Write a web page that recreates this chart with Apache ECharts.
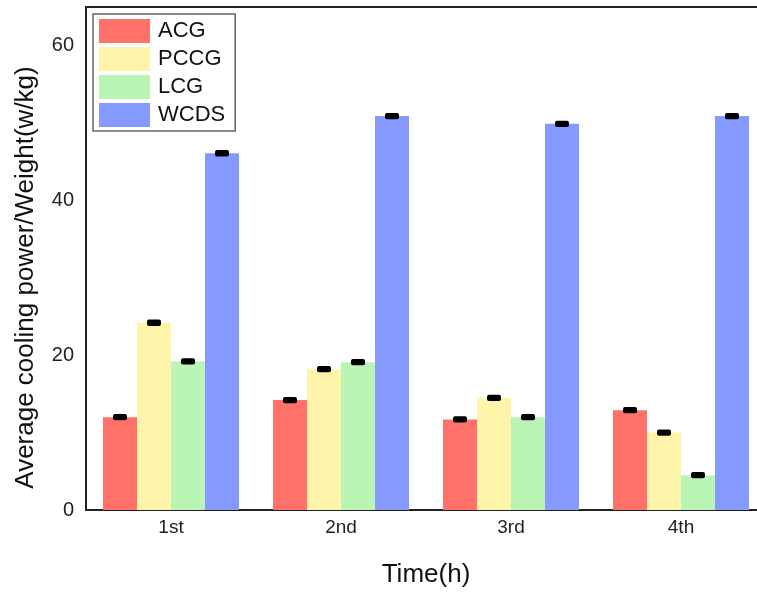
<!DOCTYPE html>
<html>
<head>
<meta charset="utf-8">
<script src="https://cdn.jsdelivr.net/npm/echarts@6/dist/echarts.min.js"></script>
<style>
html,body{margin:0;padding:0;background:#fff;overflow:hidden;}
#chart{width:766px;height:594px;}
</style>
</head>
<body>
<div id="chart"></div>
<script>
const categories = ['1st', '2nd', '3rd', '4th'];
const seriesNames = ['ACG', 'PCCG', 'LCG', 'WCDS'];
const acg = [12.0, 14.2, 11.7, 12.9];
const pccg = [24.2, 18.2, 14.5, 10.0];
const lcg = [19.2, 19.1, 12.0, 4.5];
const wcds = [46.1, 50.9, 49.9, 50.9];
const acgErr = [0.15, 0.15, 0.15, 0.15];
const pccgErr = [0.15, 0.15, 0.15, 0.15];
const lcgErr = [0.15, 0.15, 0.15, 0.15];
const wcdsErr = [0.15, 0.15, 0.15, 0.15];
const yTicks = [0, 20, 40, 60];

const values = [acg, pccg, lcg, wcds];
const errors = [acgErr, pccgErr, lcgErr, wcdsErr];
const colors = ['#FF7169', '#FFF5AA', '#BBF5B5', '#8599FF'];
const FONT = 'Liberation Sans, Arial, sans-serif';

const chart = echarts.init(document.getElementById('chart'));

const barSeries = seriesNames.map((n, s) => ({
  name: n,
  type: 'bar',
  data: values[s],
  barGap: '0%',
  barCategoryGap: '20%',
  itemStyle: { color: colors[s] },
  z: 2
}));

const errSeries = seriesNames.map((n, s) => ({
  name: n + '_err',
  type: 'custom',
  data: values[s].map((v, i) => [i, v, errors[s][i]]),
  z: 5,
  silent: true,
  renderItem: function (params, api) {
    const i = api.value(0), v = api.value(1), e = api.value(2);
    const bandW = api.size([1, 0])[0];
    const bw = bandW * 0.8 / 4;
    const c = api.coord([i, v]);
    const x = c[0] + (s - 1.5) * bw;
    const yTop = api.coord([i, v + e])[1];
    const yBot = api.coord([i, v - e])[1];
    const capW = 14;
    return {
      type: 'rect',
      shape: { x: x - capW / 2, y: yTop - 2, width: capW, height: (yBot - yTop) + 4, r: 2 },
      style: { fill: '#000' }
    };
  }
}));

chart.setOption({
  animation: false,
  backgroundColor: '#fff',
  grid: {
    left: 86, top: 7, right: 0, bottom: 84,
    show: true, borderColor: '#222', borderWidth: 2, backgroundColor: 'transparent'
  },
  legend: {
    data: seriesNames,
    orient: 'vertical',
    left: 93, top: 14,
    padding: [5, 10, 4, 6],
    itemWidth: 51, itemHeight: 24, itemGap: 4,
    borderColor: '#666', borderWidth: 1.5,
    icon: 'rect',
    textStyle: { fontFamily: FONT, fontSize: 22, color: '#111', padding: [0, 0, 0, 3] }
  },
  xAxis: {
    type: 'category',
    data: categories,
    axisLine: { lineStyle: { color: '#222', width: 2 } },
    axisTick: { show: false },
    axisLabel: { fontFamily: FONT, fontSize: 19, color: '#222', margin: 8 },
    name: 'Time(h)',
    nameLocation: 'middle',
    nameGap: 52,
    nameTextStyle: { fontFamily: FONT, fontSize: 26, color: '#111' }
  },
  yAxis: {
    type: 'value',
    min: 0, max: 65, interval: 20,
    axisLine: { show: true, lineStyle: { color: '#222', width: 2 } },
    axisTick: { show: false },
    splitLine: { show: false },
    axisLabel: {
      fontFamily: FONT, fontSize: 20, color: '#222', margin: 12,
      showMaxLabel: false,
      formatter: function (v) { return yTicks.indexOf(v) >= 0 ? String(v) : ''; }
    },
    name: 'Average cooling power/Weight(w/kg)',
    nameLocation: 'middle',
    nameGap: 47,
    nameTextStyle: { fontFamily: FONT, fontSize: 26, color: '#111', padding: [0, 38, 0, 0] }
  },
  series: barSeries.concat(errSeries)
});
</script>
</body>
</html>
